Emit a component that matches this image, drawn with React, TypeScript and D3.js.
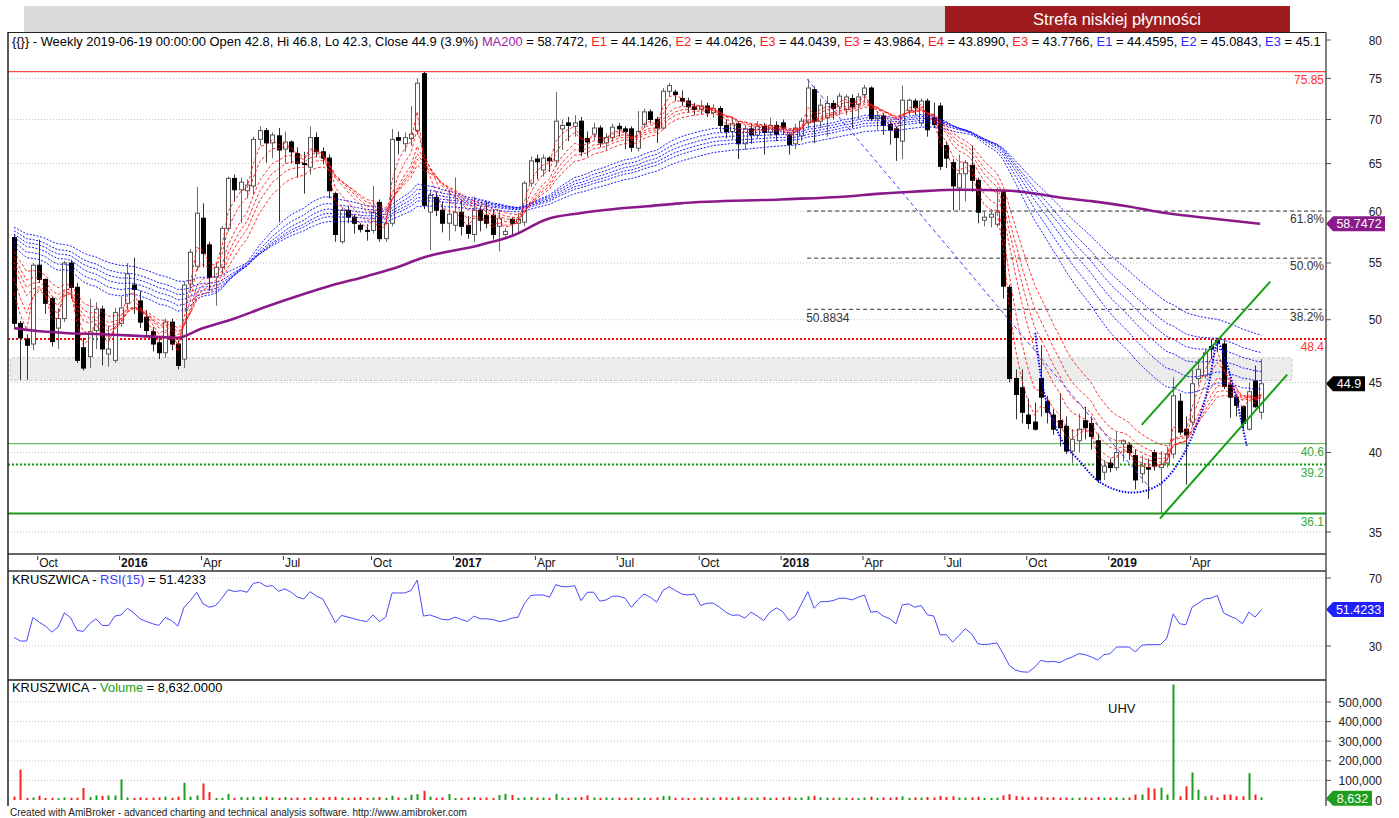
import React from 'react';
import * as d3 from 'd3';

// ---------- DATA ----------
// weekly candles [open, high, low, close], first week ending 2015-09-04
const candles: [number, number, number, number][] = [
  // 0-9
  [57.4, 57.7, 49.3, 49.7], [49.7, 49.9, 45.2, 48.5], [48.4, 48.8, 45.2, 47.9], [48.0, 55.0, 47.5, 54.8], [54.8, 57.2, 53.2, 53.5],
  [53.5, 53.6, 50.5, 51.4], [51.8, 52.0, 47.8, 48.2], [49.3, 51.0, 47.6, 50.1], [50.1, 55.2, 49.8, 55.0], [55.0, 55.3, 51.8, 52.8],
  // 10-19
  [52.8, 53.2, 46.5, 46.7], [47.7, 48.5, 45.9, 46.1], [47.0, 51.8, 46.1, 49.0], [49.1, 51.5, 47.6, 50.9], [50.9, 51.2, 46.3, 47.6],
  [47.2, 49.5, 46.2, 47.6], [46.7, 51.0, 46.5, 50.6], [49.7, 52.0, 49.4, 51.0], [51.4, 55.0, 50.8, 54.0], [53.0, 55.5, 50.5, 52.6],
  // 20-29
  [51.6, 52.5, 49.3, 49.8], [50.2, 50.8, 48.5, 49.1], [49.0, 49.4, 47.4, 48.0], [48.1, 48.6, 46.8, 47.3], [47.3, 50.1, 46.9, 49.8],
  [49.8, 50.1, 47.5, 48.0], [48.0, 48.3, 46.0, 46.3], [46.8, 53.3, 46.1, 53.0], [53.1, 56.3, 52.5, 56.0], [54.7, 62.5, 54.3, 59.8],
  // 30-39
  [59.3, 60.8, 54.6, 55.9], [56.7, 57.0, 52.5, 53.7], [53.7, 55.0, 51.2, 54.6], [54.6, 58.5, 54.0, 58.3], [58.3, 63.6, 58.0, 63.4],
  [63.4, 63.8, 61.0, 62.2], [62.2, 63.5, 58.8, 63.0], [62.1, 63.3, 61.3, 62.7], [62.6, 68.0, 61.7, 67.7], [67.7, 69.2, 67.0, 68.7],
  // 40-49
  [68.7, 69.0, 65.1, 67.3], [67.3, 68.5, 65.6, 68.2], [68.1, 69.0, 58.9, 66.5], [66.6, 68.6, 65.0, 67.4], [67.4, 67.6, 65.0, 66.3],
  [66.1, 66.8, 63.5, 65.0], [65.0, 66.3, 61.8, 64.9], [64.6, 69.2, 63.8, 67.9], [67.9, 68.5, 65.7, 66.3], [66.3, 66.8, 64.9, 65.6],
  // 50-59
  [65.6, 66.0, 61.3, 62.1], [61.8, 62.0, 57.0, 57.7], [57.0, 60.4, 56.8, 60.1], [60.1, 60.5, 58.8, 59.4], [59.4, 59.7, 57.8, 58.8],
  [58.6, 58.8, 57.9, 58.2], [58.1, 58.7, 57.1, 58.0], [58.1, 62.6, 57.8, 59.9], [60.9, 61.2, 57.0, 57.3], [57.3, 59.2, 57.0, 58.8],
  // 60-69
  [58.8, 68.9, 58.5, 67.7], [67.9, 68.6, 66.0, 67.6], [67.2, 68.5, 66.3, 67.9], [67.8, 71.6, 67.0, 68.3], [68.7, 75.0, 68.2, 74.4],
  [75.6, 75.85, 60.2, 60.6], [59.9, 62.2, 56.2, 61.6], [61.4, 62.0, 59.5, 60.1], [60.1, 61.0, 57.9, 58.8], [58.8, 62.2, 57.1, 59.7],
  // 70-79
  [58.6, 63.5, 58.0, 59.9], [59.9, 61.2, 57.6, 58.5], [58.6, 59.5, 57.3, 57.8], [57.7, 61.5, 57.0, 60.1], [60.1, 60.5, 58.0, 59.1],
  [59.6, 61.0, 58.3, 58.8], [59.6, 60.2, 57.2, 57.7], [58.5, 60.1, 56.1, 59.3], [57.7, 58.3, 57.3, 58.0], [59.2, 59.4, 57.7, 58.8],
  // 80-89
  [58.8, 59.8, 57.9, 59.2], [58.9, 63.1, 58.5, 62.9], [62.9, 65.8, 62.5, 65.3], [65.5, 66.0, 63.3, 65.2], [64.3, 66.0, 63.6, 65.6],
  [65.6, 65.8, 64.1, 65.3], [65.3, 73.3, 64.7, 69.8], [68.9, 70.0, 66.5, 69.3], [69.6, 70.3, 67.5, 69.3], [69.2, 70.5, 68.0, 69.6],
  // 90-99
  [69.8, 70.3, 65.8, 66.3], [67.8, 68.6, 65.8, 67.4], [68.3, 69.6, 67.6, 69.0], [69.0, 69.3, 66.8, 67.3], [67.3, 68.4, 66.5, 67.9],
  [67.9, 69.5, 67.4, 69.1], [69.2, 69.6, 68.0, 68.9], [68.9, 69.2, 66.6, 68.6], [68.9, 69.2, 66.3, 66.8], [66.7, 71.0, 66.3, 68.6],
  // 100-109
  [69.4, 71.3, 69.0, 70.9], [70.9, 71.2, 69.5, 70.0], [70.0, 70.3, 67.3, 69.0], [69.0, 73.8, 68.8, 73.4], [73.4, 74.4, 72.8, 74.1],
  [73.3, 73.6, 72.2, 73.0], [72.5, 73.5, 71.6, 72.2], [72.2, 72.6, 70.8, 71.5], [71.5, 72.0, 70.5, 71.2], [71.2, 72.3, 70.6, 71.6],
  // 110-119
  [71.6, 72.0, 70.3, 70.8], [70.8, 71.8, 70.2, 71.3], [71.3, 71.6, 68.5, 69.3], [69.3, 70.0, 67.8, 68.6], [68.6, 70.2, 67.7, 69.5],
  [69.5, 69.8, 65.5, 67.2], [67.2, 69.3, 66.5, 68.9], [68.9, 69.5, 67.2, 68.2], [68.2, 69.8, 67.8, 69.2], [69.2, 69.6, 66.0, 68.5],
  // 120-129
  [68.5, 70.2, 68.0, 69.3], [69.3, 69.8, 67.5, 68.3], [69.6, 70.0, 68.2, 69.0], [68.2, 68.5, 66.0, 67.1], [67.2, 69.5, 66.6, 69.0],
  [68.1, 70.2, 67.5, 69.8], [69.6, 74.9, 69.0, 73.8], [73.6, 74.0, 67.3, 69.8], [69.8, 72.5, 69.0, 71.7], [70.2, 72.8, 68.0, 71.9],
  // 130-139
  [71.9, 72.3, 70.0, 71.3], [71.5, 73.2, 70.5, 72.8], [71.2, 73.0, 70.5, 72.7], [72.5, 73.0, 69.0, 71.5], [71.8, 73.2, 70.0, 72.7],
  [73.0, 74.2, 72.0, 73.8], [73.8, 74.0, 69.8, 70.1], [70.1, 71.0, 68.8, 70.4], [70.4, 70.8, 68.2, 69.3], [69.4, 69.8, 67.1, 68.8],
  // 140-149
  [68.9, 69.2, 65.3, 67.9], [67.5, 74.1, 65.5, 72.3], [71.1, 72.5, 70.5, 72.3], [72.2, 72.5, 70.5, 71.4], [69.6, 72.5, 69.2, 72.2],
  [72.2, 72.5, 68.0, 68.8], [70.2, 72.0, 69.0, 69.4], [71.6, 72.0, 64.3, 64.7], [67.0, 67.5, 64.5, 65.6], [65.1, 65.5, 60.1, 62.6],
  // 150-159
  [62.4, 66.0, 60.1, 63.9], [63.9, 65.4, 61.0, 65.1], [64.8, 67.0, 62.0, 63.2], [63.2, 63.5, 58.8, 59.9], [59.1, 60.0, 58.5, 59.4],
  [59.4, 60.1, 58.4, 59.7], [58.7, 62.3, 58.4, 59.9], [62.0, 62.2, 51.8, 52.9], [52.8, 53.0, 45.0, 45.3], [45.3, 46.0, 42.3, 44.1],
  // 160-169
  [44.6, 46.0, 42.0, 42.8], [42.6, 43.8, 41.6, 42.0], [42.1, 43.5, 41.5, 41.6], [45.3, 47.9, 42.5, 43.9], [43.6, 44.0, 42.0, 42.8],
  [42.6, 43.0, 41.2, 41.6], [42.2, 44.2, 40.4, 41.7], [41.8, 42.5, 39.9, 40.1], [40.1, 41.6, 39.3, 40.9], [40.8, 42.7, 40.0, 41.6],
  // 170-179
  [42.2, 43.2, 40.9, 41.7], [42.0, 42.5, 40.2, 41.1], [40.8, 41.3, 38.0, 38.2], [38.7, 39.5, 38.2, 39.1], [39.3, 39.6, 38.7, 39.0],
  [39.0, 41.4, 38.8, 40.0], [40.6, 40.9, 39.4, 40.8], [40.5, 40.7, 39.5, 40.0], [39.8, 40.2, 37.6, 38.2], [38.6, 39.8, 38.0, 39.1],
  // 180-189
  [39.0, 39.6, 37.0, 38.9], [40.0, 40.2, 38.8, 39.1], [39.0, 40.1, 36.1, 39.2], [39.3, 40.4, 39.0, 39.9], [39.9, 45.4, 39.6, 44.0],
  [43.6, 44.2, 41.2, 41.4], [41.6, 42.5, 37.9, 41.2], [42.1, 46.0, 41.8, 44.9], [45.3, 46.8, 44.8, 46.0], [45.5, 47.6, 45.3, 47.3],
  // 190-198
  [47.8, 48.4, 46.8, 47.6], [48.3, 48.5, 47.4, 48.1], [48.0, 48.3, 44.5, 44.7], [44.8, 45.2, 42.4, 43.9], [43.9, 44.1, 42.5, 43.3],
  [43.2, 43.3, 41.6, 42.0], [41.6, 45.0, 41.5, 44.3], [45.1, 46.3, 43.1, 43.2], [42.8, 46.8, 42.3, 44.9],
];

// weekly volume, thousands of shares
const volumesK: number[] = [
  12, 150, 5, 8, 17, 5, 6, 4, 8, 6,
  7, 56, 10, 18, 16, 18, 18, 100, 8, 5,
  8, 6, 7, 8, 12, 6, 12, 83, 12, 18,
  79, 35, 5, 6, 26, 6, 10, 8, 12, 10,
  12, 8, 6, 10, 6, 8, 6, 10, 6, 8,
  10, 12, 8, 6, 8, 10, 6, 8, 10, 6,
  17, 8, 6, 22, 25, 42, 12, 6, 8, 26,
  5, 6, 8, 10, 6, 8, 6, 20, 26, 20,
  6, 8, 10, 6, 8, 6, 26, 8, 6, 8,
  10, 18, 8, 6, 8, 6, 7, 6, 8, 6,
  7, 6, 8, 15, 15, 6, 7, 5, 6, 8,
  6, 7, 10, 8, 6, 12, 7, 6, 8, 10,
  6, 7, 8, 12, 6, 8, 14, 16, 8, 7,
  6, 8, 7, 6, 5, 8, 12, 6, 8, 7,
  10, 14, 6, 8, 7, 10, 8, 16, 10, 14,
  8, 7, 9, 12, 6, 5, 7, 18, 25, 15,
  12, 9, 10, 12, 8, 9, 7, 8, 6, 7,
  9, 6, 10, 6, 7, 9, 6, 8, 23, 23,
  58, 53, 58, 23, 584, 14, 65, 135, 47, 14,
  18, 8, 23, 23, 14, 14, 132, 23, 8.632,
];

// RSI(15) per week
const rsi15: number[] = [
  35.1, 32.9, 32.9, 46.8, 44.0, 41.7, 38.2, 41.1, 49.5, 46.6,
  39.2, 38.6, 43.1, 46.0, 42.1, 42.1, 47.6, 48.3, 52.2, 49.5,
  46.0, 44.4, 43.1, 42.1, 46.8, 45.0, 41.7, 52.8, 56.7, 61.6,
  54.8, 52.8, 53.8, 58.1, 63.2, 62.0, 62.6, 61.6, 66.9, 67.5,
  65.1, 65.5, 62.2, 63.6, 61.6, 58.7, 57.7, 62.0, 59.3, 57.7,
  50.9, 43.7, 48.0, 47.0, 46.0, 45.0, 44.4, 48.3, 44.4, 47.0,
  61.2, 61.2, 61.2, 62.6, 68.8, 47.6, 48.3, 47.0, 45.6, 45.4,
  47.0, 45.6, 44.4, 47.6, 46.0, 46.0, 45.6, 44.4, 45.0, 46.4,
  47.0, 54.8, 59.7, 60.0, 60.0, 58.7, 66.1, 64.9, 64.9, 65.5,
  56.7, 61.6, 61.6, 56.4, 57.1, 59.3, 59.3, 58.1, 52.8, 57.1,
  60.6, 58.7, 55.8, 62.6, 64.9, 62.6, 60.6, 60.0, 60.6, 53.8,
  55.2, 55.2, 52.8, 49.9, 48.0, 48.3, 46.4, 49.9, 47.6, 45.0,
  49.9, 52.4, 50.3, 45.0, 47.6, 54.8, 62.0, 52.2, 56.1, 56.1,
  56.7, 58.1, 58.1, 57.1, 58.7, 60.0, 49.9, 50.3, 47.6, 46.0,
  43.1, 54.2, 54.8, 52.8, 53.8, 48.3, 47.6, 36.6, 36.6, 32.3,
  36.2, 40.1, 37.2, 31.3, 30.8, 31.2, 31.9, 25.5, 18.5, 15.8,
  14.8, 14.6, 17.5, 21.6, 20.6, 21.0, 20.2, 22.2, 23.6, 25.5,
  24.9, 23.6, 21.8, 24.9, 25.5, 29.4, 29.4, 29.4, 26.5, 30.4,
  30.8, 30.8, 30.8, 34.7, 48.9, 43.1, 42.5, 52.8, 55.2, 57.7,
  58.1, 59.7, 49.5, 47.6, 46.0, 43.1, 49.9, 47.0, 51.4233,
];

// MA200 read at [week index, value]
const ma200Points: [number, number][] = [
  [0, 49.3], [3, 49.1], [8, 48.9], [14, 48.8], [18, 48.7], [22, 48.6], [26, 48.5], [29.5, 49.2],
  [35, 50.1], [40, 51.1], [45.4, 52.1], [50.6, 53.0], [56, 53.8], [61.3, 54.7], [64.4, 55.4],
  [74, 56.7], [79.2, 57.6], [84.6, 59.2], [89.8, 59.8], [95, 60.2], [100.5, 60.5], [105.7, 60.8],
  [121.6, 61.2], [132.2, 61.5], [137.5, 61.8], [142.7, 62.0], [150.2, 62.2], [158.1, 62.1],
  [164, 61.6], [166, 61.4], [171.3, 61.0], [176.7, 60.5], [181.9, 59.9], [188.3, 59.4], [197.8, 58.75],
];

// Guppy EMAs (short = red, long = blue) with starting values read at the left edge
const redPeriods = [3, 5, 8, 10, 12, 15];
const redSeeds = [55.0, 55.5, 56.0, 56.3, 56.6, 57.0];
const bluePeriods = [30, 35, 40, 45, 50, 60];
const blueSeeds = [57.0, 57.4, 57.8, 58.1, 58.4, 58.7];

const priceTicks = [35, 40, 45, 50, 55, 60, 65, 70, 75, 80];
const rsiTicks = [30, 70];
const volumeTicks = [0, 100000, 200000, 300000, 400000, 500000];

const resistanceLevels = [75.85, 48.4];
const supportLevels = [40.6, 39.2, 36.1];
const fibHigh = 74.8;
const fibLow = 36.1;
const fibRatios = [0.618, 0.5, 0.382];
const fibStartWeek = 125.9;
const zoneBand: [number, number] = [45.15, 46.9];

// hand-drawn studies: [week index, price]
const trendDiagonal: [number, number][] = [[125.9, 74.9], [180.3, 37.7]];
const arcDown: [number, number][] = [
  [162.1, 48.9], [162.9, 45.8], [163.8, 43.7], [165.2, 41.9], [166.8, 40.5], [169.2, 39.4], [171.6, 38.3],
  [174.0, 37.7], [177.1, 37.4], [180.3, 37.6], [182.7, 38.2], [185.1, 39.5], [187.0, 41.1], [188.6, 43.0],
  [189.8, 45.2], [190.6, 47.5], [191.1, 48.3],
];
const arcSmall: [number, number][] = [[191.1, 48.3], [192.4, 46.6], [193.7, 44.4], [194.8, 42.2], [195.7, 40.4]];
const channelUpper: [number, number][] = [[179.0, 41.9], [199.4, 53.3]];
const channelLower: [number, number][] = [[181.9, 35.8], [202.1, 45.6]];

const firstWeekEnd = new Date(2015, 8, 4);
const weekDates = d3.range(candles.length).map((i) => d3.timeWeek.offset(firstWeekEnd, i));

// ---------- HELPERS ----------
function ema(values: number[], period: number, seed: number) {
  const k = 2 / (period + 1);
  let e = seed;
  return values.map((v) => (e = e + k * (v - e)));
}

const FONT = 'Liberation Sans, Arial, sans-serif';

export default function App() {
  const W = 1399;
  const H = 818;
  const left = 8;
  const axisX = 1326;
  const mainTop = 32;
  const mainBottom = 553;

  const n = candles.length;
  const x = d3.scaleLinear().domain([0, n - 1]).range([14, 14 + (n - 1) * 6.3]);
  const yP = d3.scaleLog().domain([35, 80]).range([532, 40]);
  const yR = d3.scaleLinear().domain([30, 70]).range([646, 578]);
  const yV = d3.scaleLinear().domain([0, 500000]).range([800, 702]);

  const closes = candles.map((c) => c[3]);
  const redEmas = redPeriods.map((p, i) => ema(closes, p, redSeeds[i]));
  const blueEmas = bluePeriods.map((p, i) => ema(closes, p, blueSeeds[i]));

  const seriesLine = d3.line<number>().x((_, i) => x(i)).y((v) => yP(v));
  const ptLine = d3.line<[number, number]>().x((d) => x(d[0])).y((d) => yP(d[1]));
  const ptCurve = d3.line<[number, number]>().x((d) => x(d[0])).y((d) => yP(d[1])).curve(d3.curveCatmullRom);
  const maLine = d3.line<[number, number]>().x((d) => x(d[0])).y((d) => yP(d[1])).curve(d3.curveMonotoneX);
  const rsiLine = d3.line<number>().x((_, i) => x(i)).y((v) => yR(v));

  // month ticks
  const monthTicks: { i: number; label: string; bold: boolean }[] = [];
  weekDates.forEach((d, i) => {
    if (i === 0) return;
    const m = d.getMonth();
    if (m !== weekDates[i - 1].getMonth() && m % 3 === 0) {
      monthTicks.push({ i, label: m === 0 ? d3.timeFormat('%Y')(d) : d3.timeFormat('%b')(d), bold: m === 0 });
    }
  });

  const fibLevels = fibRatios.map((r) => ({ r, v: fibLow + r * (fibHigh - fibLow) }));

  const legendParts: [string, string][] = [
    ['{{}} - Weekly 2019-06-19 00:00:00 Open 42.8, Hi 46.8, Lo 42.3, Close 44.9 (3.9%) ', '#000'],
    ['MA200', '#a11ca1'], [' = 58.7472, ', '#000'],
    ['E1', '#ff2020'], [' = 44.1426, ', '#000'],
    ['E2', '#ff2020'], [' = 44.0426, ', '#000'],
    ['E3', '#ff2020'], [' = 44.0439, ', '#000'],
    ['E3', '#ff2020'], [' = 43.9864, ', '#000'],
    ['E4', '#ff2020'], [' = 43.8990, ', '#000'],
    ['E3', '#ff2020'], [' = 43.7766, ', '#000'],
    ['E1', '#2a2aff'], [' = 44.4595, ', '#000'],
    ['E2', '#2a2aff'], [' = 45.0843, ', '#000'],
    ['E3', '#2a2aff'], [' = 45.1234', '#000'],
  ];

  const badge = (yc: number, text: string, fill: string, w: number) => (
    <g>
      <polygon
        points={`${axisX},${yc} ${axisX + 7},${yc - 7.5} ${axisX + 7 + w},${yc - 7.5} ${axisX + 7 + w},${yc + 7.5} ${axisX + 7},${yc + 7.5}`}
        fill={fill}
      />
      <text x={axisX + 7 + w / 2} y={yc + 4.5} fill="#fff" fontSize={12.5} textAnchor="middle" fontFamily={FONT}>
        {text}
      </text>
    </g>
  );

  const levelLabel = (v: number, text: string, color: string) => (
    <text x={axisX - 2} y={yP(v) + 12} fill={color} fontSize={12} textAnchor="end" fontFamily={FONT}>
      {text}
    </text>
  );

  return (
    <svg width={W} height={H} style={{ position: 'absolute', left: 0, top: 0, background: '#fff' }} fontFamily={FONT}>
      <defs>
        <clipPath id="mainClip">
          <rect x={left} y={mainTop} width={axisX - left} height={mainBottom - mainTop} />
        </clipPath>
        <clipPath id="legendClip">
          <rect x={left} y={mainTop} width={axisX - left - 5} height={20} />
        </clipPath>
      </defs>
      <rect x={0} y={0} width={W} height={H} fill="#fff" />

      {/* header bars */}
      <rect x={24} y={6} width={921} height={26} fill="#d9d9d9" />
      <rect x={945} y={6} width={345} height={26} fill="#9e1b1e" />
      <text x={1117} y={25} fill="#fff" fontSize={16.5} textAnchor="middle">Strefa niskiej płynności</text>

      {/* ===== MAIN PANE ===== */}
      <g>
        {priceTicks.filter((t) => t < 80).map((t) => (
          <line key={t} x1={left} x2={axisX} y1={yP(t)} y2={yP(t)} stroke="#c4c4c4" strokeDasharray="1,2" />
        ))}
      </g>
      <g clipPath="url(#mainClip)">
        {/* zone band */}
        <rect x={left + 2} y={yP(zoneBand[1])} width={1292 - left - 2} height={yP(zoneBand[0]) - yP(zoneBand[1])}
          fill="#ececec" stroke="#c8c8c8" strokeDasharray="3,2" rx={2} />

        {/* horizontal levels */}
        <line x1={left} x2={axisX} y1={yP(resistanceLevels[0])} y2={yP(resistanceLevels[0])} stroke="#ff4a4a" strokeWidth={1.2} />
        <line x1={left} x2={axisX} y1={yP(resistanceLevels[1])} y2={yP(resistanceLevels[1])} stroke="#ff0000" strokeWidth={2} strokeDasharray="2,2" />
        <line x1={left} x2={axisX} y1={yP(supportLevels[0])} y2={yP(supportLevels[0])} stroke="#4aaa4a" strokeWidth={1} />
        <line x1={left} x2={axisX} y1={yP(supportLevels[1])} y2={yP(supportLevels[1])} stroke="#0c9a0c" strokeWidth={2} strokeDasharray="2,2" />
        <line x1={left} x2={axisX} y1={yP(supportLevels[2])} y2={yP(supportLevels[2])} stroke="#1c961c" strokeWidth={2} />

        {/* fib */}
        {fibLevels.map((f) => (
          <line key={f.r} x1={x(fibStartWeek)} x2={axisX} y1={yP(f.v)} y2={yP(f.v)} stroke="#333" strokeDasharray="4,3" />
        ))}

        {/* candles */}
        {candles.map((c, i) => {
          const [o, h, l, cl] = c;
          const up = cl >= o;
          const cx = Math.round(x(i)) + 0.5;
          const top = yP(Math.max(o, cl));
          const bot = yP(Math.min(o, cl));
          return (
            <g key={i}>
              <line x1={cx} x2={cx} y1={yP(h)} y2={yP(l)} stroke={up ? '#6a6a6a' : '#333'} strokeWidth={1} />
              <rect x={cx - 2} y={top} width={4} height={Math.max(1, bot - top)}
                fill={up ? '#fff' : '#000'} stroke={up ? '#555' : '#000'} strokeWidth={1} />
            </g>
          );
        })}

        {/* MA200 */}
        <path d={maLine(ma200Points) || ''} fill="none" stroke="#8a1a8a" strokeWidth={2.6} />

        {/* Guppy EMAs */}
        {blueEmas.map((s, k) => (
          <path key={'b' + k} d={seriesLine(s) || ''} fill="none" stroke="#1010ff" strokeWidth={1} strokeDasharray="2,1.5" opacity={0.95} />
        ))}
        {redEmas.map((s, k) => (
          <path key={'r' + k} d={seriesLine(s) || ''} fill="none" stroke="#ff1010" strokeWidth={1} strokeDasharray="3,2" opacity={0.85} />
        ))}

        {/* studies */}
        <path d={ptLine(trendDiagonal) || ''} fill="none" stroke="#4040ff" strokeWidth={1} strokeDasharray="4,3" />
        <path d={ptCurve(arcDown) || ''} fill="none" stroke="#0000ff" strokeWidth={2} strokeDasharray="1.5,1.5" />
        <path d={ptCurve(arcSmall) || ''} fill="none" stroke="#0000ff" strokeWidth={2} strokeDasharray="1.5,1.5" />
        <path d={ptLine(channelUpper) || ''} fill="none" stroke="#12a012" strokeWidth={2} />
        <path d={ptLine(channelLower) || ''} fill="none" stroke="#12a012" strokeWidth={2} />
      </g>

      {/* level labels */}
      {levelLabel(resistanceLevels[0], '75.85', '#ff3030')}
      {levelLabel(resistanceLevels[1], '48.4', '#ff3030')}
      {levelLabel(supportLevels[0], '40.6', '#3aaa3a')}
      {levelLabel(supportLevels[1], '39.2', '#3aaa3a')}
      {levelLabel(supportLevels[2], '36.1', '#3aaa3a')}
      {fibLevels.map((f) => (
        <text key={f.r} x={axisX - 2} y={yP(f.v) + 12} fill="#333" fontSize={12} textAnchor="end">
          {(f.r * 100).toFixed(1) + '%'}
        </text>
      ))}
      <text x={x(fibStartWeek) - 1} y={yP(fibLevels[2].v) + 13} fill="#333" fontSize={12}>
        {fibLevels[2].v.toFixed(4)}
      </text>

      {/* legend */}
      <line x1={left} x2={axisX} y1={mainTop + 0.5} y2={mainTop + 0.5} stroke="#222" />
      <g clipPath="url(#legendClip)">
        <text x={12} y={46} fontSize={12.9}>
          {legendParts.map((p, i) => (
            <tspan key={i} fill={p[1]}>{p[0]}</tspan>
          ))}
        </text>
      </g>

      {/* price axis */}
      {priceTicks.map((t) => (
        <g key={t}>
          <line x1={axisX} x2={axisX + 5} y1={yP(t)} y2={yP(t)} stroke="#555" />
          <text x={1382} y={yP(t) + 4.5} fontSize={12} textAnchor="end" fill="#222">{t}</text>
        </g>
      ))}
      {badge(yP(58.7472), '58.7472', '#8a1a8a', 52)}
      {badge(yP(44.9), '44.9', '#000', 32)}

      {/* x axis band */}
      <line x1={left} x2={axisX} y1={554} y2={554} stroke="#666" strokeWidth={2} />
      <line x1={left} x2={axisX} y1={571} y2={571} stroke="#666" strokeWidth={2} />
      {monthTicks.map((t) => (
        <g key={t.i}>
          <line x1={x(t.i) - 1.5} x2={x(t.i) - 1.5} y1={556} y2={560} stroke="#333" />
          <text x={x(t.i)} y={567} fontSize={12} fontWeight={t.bold ? 'bold' : 'normal'} fill="#111">{t.label}</text>
        </g>
      ))}

      {/* ===== RSI PANE ===== */}
      {rsiTicks.map((t) => (
        <g key={t}>
          <line x1={left} x2={axisX} y1={yR(t)} y2={yR(t)} stroke="#c4c4c4" strokeDasharray="1,2" />
          <line x1={axisX} x2={axisX + 5} y1={yR(t)} y2={yR(t)} stroke="#555" />
          <text x={1382} y={yR(t) + 4.5} fontSize={12} textAnchor="end" fill="#222">{t}</text>
        </g>
      ))}
      <path d={rsiLine(rsi15) || ''} fill="none" stroke="#4848ff" strokeWidth={1} />
      <text x={12} y={584} fontSize={12.9}>
        <tspan fill="#000">KRUSZWICA - </tspan>
        <tspan fill="#3c3cff">RSI(15)</tspan>
        <tspan fill="#000"> = 51.4233</tspan>
      </text>
      {badge(yR(rsi15[n - 1]), '51.4233', '#2020ff', 51)}

      <line x1={left} x2={axisX} y1={680} y2={680} stroke="#555" strokeWidth={2} />

      {/* ===== VOLUME PANE ===== */}
      {volumeTicks.filter((t) => t > 0).map((t) => (
        <line key={t} x1={left} x2={axisX} y1={yV(t)} y2={yV(t)} stroke="#c4c4c4" strokeDasharray="1,2" />
      ))}
      {volumeTicks.map((t) => (
        <g key={t}>
          <line x1={axisX} x2={axisX + 5} y1={yV(t)} y2={yV(t)} stroke="#555" />
          <text x={1382} y={yV(t) + 4.5} fontSize={12} textAnchor="end" fill="#222">{d3.format(',')(t)}</text>
        </g>
      ))}
      {volumesK.map((v, i) => {
        const up = candles[i][3] >= candles[i][0];
        const h = yV(0) - yV(v * 1000);
        return (
          <rect key={i} x={Math.round(x(i)) - 0.5} y={yV(v * 1000) - 1} width={2} height={h + 1}
            fill={up ? '#1e9e1e' : '#ff1e1e'} />
        );
      })}
      <text x={12} y={692} fontSize={12.9}>
        <tspan fill="#000">KRUSZWICA - </tspan>
        <tspan fill="#20a020">Volume</tspan>
        <tspan fill="#000"> = 8,632.0000</tspan>
      </text>
      <text x={1108} y={713} fontSize={13} fill="#111">UHV</text>
      {badge(yV(volumesK[n - 1] * 1000), d3.format(',')(Math.round(volumesK[n - 1] * 1000)), '#1e9e1e', 39)}

      {/* frame */}
      <line x1={left} x2={left} y1={mainTop} y2={806} stroke="#222" strokeWidth={1.5} />
      <line x1={axisX} x2={axisX} y1={mainTop} y2={806} stroke="#555" strokeWidth={1.5} />

      <text x={10} y={816} fontSize={10} fill="#222">
        Created with AmiBroker - advanced charting and technical analysis software. http://www.amibroker.com
      </text>
    </svg>
  );
}
